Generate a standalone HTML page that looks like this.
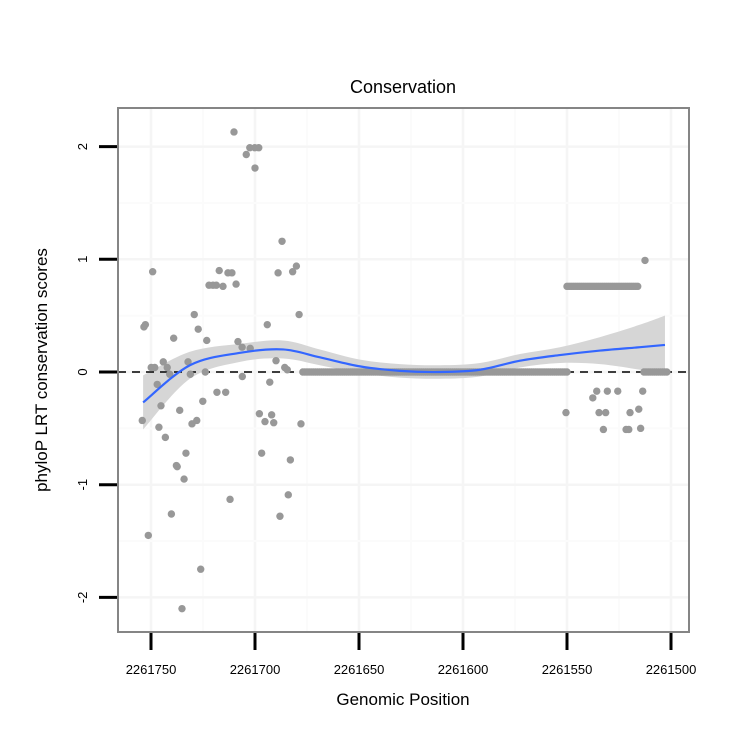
<!DOCTYPE html>
<html><head><meta charset="utf-8"><style>
body{margin:0;background:#fff}
svg{display:block;font-family:"Liberation Sans",Arial,sans-serif}
</style></head><body>
<svg id="chart" width="750" height="750">
<rect width="750" height="750" fill="#fff"/>
<g id="grid"></g>
<g id="band"></g>
<line x1="118" x2="689" y1="372" y2="372" stroke="#000" stroke-width="1.5" stroke-dasharray="8,6"/>
<g id="points"></g>
<g id="smooth"></g>
<rect x="118" y="108" width="571" height="524" fill="none" stroke="#858585" stroke-width="2"/>
<g id="axes"></g>
<text x="403" y="93" text-anchor="middle" font-size="18">Conservation</text>
<text x="403" y="705" text-anchor="middle" font-size="17">Genomic Position</text>
<text transform="translate(47,370) rotate(-90)" text-anchor="middle" font-size="17">phyloP LRT conservation scores</text>
</svg>
<script>
const xTicks=[2261750,2261700,2261650,2261600,2261550,2261500];
const yTicks=[-2,-1,0,1,2];
const ptPos=[2261749.2,2261752.7,2261753.4,2261754.2,2261749.9,2261748.2,2261747.0,2261744.1,2261742.2,2261741.0,2261745.2,2261746.2,2261743.1,2261739.1,2261736.2,2261737.8,2261737.4,2261733.2,2261734.1,2261740.2,2261751.3,2261726.1,2261735.1,2261732.2,2261731.1,2261729.2,2261727.3,2261723.2,2261723.9,2261725.1,2261730.3,2261728.0,2261722.1,2261720.2,2261718.6,2261715.4,2261717.2,2261713.0,2261711.1,2261709.1,2261718.3,2261714.1,2261712.0,2261710.1,2261704.2,2261702.5,2261700.1,2261698.2,2261700.0,2261708.2,2261706.2,2261702.3,2261706.1,2261697.9,2261692.0,2261695.2,2261691.0,2261696.8,2261692.9,2261694.1,2261689.9,2261685.7,2261684.5,2261688.9,2261687.0,2261681.9,2261680.1,2261678.8,2261677.9,2261683.0,2261684.0,2261688.0,
2261512.5,2261550.5,2261535.7,2261537.6,2261530.6,2261525.6,2261513.6,2261534.6,2261531.4,2261519.7,2261515.5,2261532.5,2261521.6,2261520.3,2261514.6];
const ptScore=[0.89,0.42,0.40,-0.43,0.04,0.04,-0.11,0.09,0.04,-0.02,-0.30,-0.49,-0.58,0.30,-0.34,-0.83,-0.84,-0.72,-0.95,-1.26,-1.45,-1.75,-2.10,0.09,-0.02,0.51,0.38,0.28,0.00,-0.26,-0.46,-0.43,0.77,0.77,0.77,0.76,0.90,0.88,0.88,0.78,-0.18,-0.18,-1.13,2.13,1.93,1.99,1.99,1.99,1.81,0.27,0.22,0.21,-0.04,-0.37,-0.38,-0.44,-0.45,-0.72,-0.09,0.42,0.10,0.04,0.02,0.88,1.16,0.89,0.94,0.51,-0.46,-0.78,-1.09,-1.28,
0.99,-0.36,-0.17,-0.23,-0.17,-0.17,-0.17,-0.36,-0.36,-0.36,-0.33,-0.51,-0.51,-0.51,-0.50];
const highPos=[2261550,2261549,2261548,2261547,2261546,2261545,2261544,2261543,2261542,2261541,2261540,2261539,2261538,2261537,2261536,2261535,2261534,2261533,2261532,2261531,2261530,2261529,2261528,2261527,2261526,2261525,2261524,2261523,2261522,2261521,2261520,2261519,2261518,2261517,2261516];
const highScore=[0.76,0.76,0.76,0.76,0.76,0.76,0.76,0.76,0.76,0.76,0.76,0.76,0.76,0.76,0.76,0.76,0.76,0.76,0.76,0.76,0.76,0.76,0.76,0.76,0.76,0.76,0.76,0.76,0.76,0.76,0.76,0.76,0.76,0.76,0.76];
const zeroPos=[2261677,2261675,2261673,2261671,2261669,2261667,2261665,2261663,2261661,2261659,2261657,2261655,2261653,2261651,2261649,2261647,2261645,2261643,2261641,2261639,2261637,2261635,2261633,2261631,2261629,2261627,2261625,2261623,2261621,2261619,2261617,2261615,2261613,2261611,2261609,2261607,2261605,2261603,2261601,2261599,2261597,2261595,2261593,2261591,2261589,2261587,2261585,2261583,2261581,2261579,2261577,2261575,2261573,2261571,2261569,2261567,2261565,2261563,2261561,2261559,2261557,2261555,2261553,2261551,2261550,2261513,2261511,2261509,2261507,2261505,2261503,2261502];
const zeroPos2=[2261676,2261674,2261672,2261670,2261668,2261666,2261664,2261662,2261660,2261658,2261656,2261654,2261652,2261650,2261648,2261646,2261644,2261642,2261640,2261638,2261636,2261634,2261632,2261630,2261628,2261626,2261624,2261622,2261620,2261618,2261616,2261614,2261612,2261610,2261608,2261606,2261604,2261602,2261600,2261598,2261596,2261594,2261592,2261590,2261588,2261586,2261584,2261582,2261580,2261578,2261576,2261574,2261572,2261570,2261568,2261566,2261564,2261562,2261560,2261558,2261556,2261554,2261552,2261512,2261510,2261508,2261506,2261504];
const smPos=[2261753.8,2261731.3,2261707.2,2261686.5,2261668.8,2261649.5,2261630.3,2261611.1,2261591.8,2261572.6,2261553.4,2261534.1,2261514.9,2261502.9];
const smFit=[-0.27,0.06,0.17,0.20,0.13,0.05,0.01,0.0,0.02,0.10,0.15,0.19,0.22,0.24];
const smSe=[0.24,0.12,0.08,0.08,0.07,0.06,0.06,0.06,0.06,0.06,0.07,0.12,0.2,0.26];

const NS='http://www.w3.org/2000/svg';
const X=v=>151+(2261750-v)*2.08;
const Y=v=>372-v*112.7;
function mk(tag,attrs,parent){const e=document.createElementNS(NS,tag);for(const k in attrs)e.setAttribute(k,attrs[k]);parent.appendChild(e);return e;}
function spline(P){let d='M'+P[0][0]+','+P[0][1];
  for(let i=0;i<P.length-1;i++){const p0=P[Math.max(i-1,0)],p1=P[i],p2=P[i+1],p3=P[Math.min(i+2,P.length-1)];
    d+=` C${p1[0]+(p2[0]-p0[0])/6},${p1[1]+(p2[1]-p0[1])/6} ${p2[0]-(p3[0]-p1[0])/6},${p2[1]-(p3[1]-p1[1])/6} ${p2[0]},${p2[1]}`;}
  return d;}
const grid=document.getElementById('grid');
xTicks.forEach((t,i)=>{
  let l=mk('line',{x1:X(t),x2:X(t),y1:108,y2:632,stroke:'#f5f5f5','stroke-width':2.5},grid);
  
  
  if(i<xTicks.length-1){let m=mk('line',{x1:X(t-25),x2:X(t-25),y1:108,y2:632,stroke:'#fbfbfb','stroke-width':2},grid);
  
  }
});
yTicks.forEach((t,i)=>{
  let l=mk('line',{x1:118,x2:689,y1:Y(t),y2:Y(t),stroke:'#f5f5f5','stroke-width':2.5},grid);
  
  
  if(i<yTicks.length-1){let m=mk('line',{x1:118,x2:689,y1:Y(t+0.5),y2:Y(t+0.5),stroke:'#fbfbfb','stroke-width':2},grid);
  
  }
});
const upP=smPos.map((p,i)=>[X(p),Y(smFit[i]+smSe[i])]);
const loP=smPos.map((p,i)=>[X(p),Y(smFit[i]-smSe[i])]).reverse();
const lastUp=upP[upP.length-1];
let bd=spline(upP)+' L'+loP[0][0]+','+loP[0][1]+spline(loP).replace(/^M[^ C]+/,'')+' Z';
let band=mk('path',{d:bd,fill:'#d6d6d6'},document.getElementById('band'));


const pts=document.getElementById('points');
function dot(px,py){let c=mk('circle',{cx:X(px),cy:Y(py),r:3.7,fill:'#989898'},pts);
  
  }
zeroPos.forEach(p=>dot(p,0));
zeroPos2.forEach(p=>dot(p,0));
ptPos.forEach((p,i)=>dot(p,ptScore[i]));
highPos.forEach((p,i)=>dot(p,highScore[i]));
let sm=mk('path',{d:spline(smPos.map((p,i)=>[X(p),Y(smFit[i])])),fill:'none',stroke:'#3366ff','stroke-width':2.2},document.getElementById('smooth'));


const ax=document.getElementById('axes');
xTicks.forEach(t=>{
  let l=mk('line',{x1:X(t),x2:X(t),y1:633,y2:650,stroke:'#000','stroke-width':3},ax);
  
  
  let tx=mk('text',{x:X(t),y:674,'text-anchor':'middle','font-size':13},ax);tx.textContent=t;
  
  
});
yTicks.forEach(t=>{
  let l=mk('line',{x1:99,x2:117,y1:Y(t),y2:Y(t),stroke:'#000','stroke-width':3},ax);
  
  
  let tx=mk('text',{transform:`translate(87,${Y(t)}) rotate(-90)`,'text-anchor':'middle','font-size':13},ax);tx.textContent=t;
  
  
});
</script>
</body></html>
